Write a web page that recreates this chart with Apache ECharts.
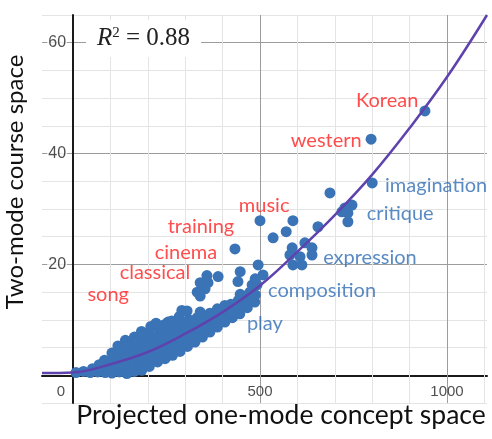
<!DOCTYPE html>
<html>
<head>
<meta charset="utf-8">
<title>Two-mode course space vs projected one-mode concept space</title>
<script src="https://cdn.jsdelivr.net/npm/echarts@6/dist/echarts.min.js"></script>
<style>
html, body { margin: 0; padding: 0; background: #fff; }
#chart { width: 492px; height: 439px; }
</style>
</head>
<body>
<div id="chart"></div>
<script>
// dense mass of points near the origin, [one-mode, two-mode]
const clusterPoints = [
  [8, 0.5], [28, 0.7], [46, 0.5], [52, 1.2],
  [66, 0.6], [70, 1.9],
  [86, 0.5], [88, 1.7], [84, 2.7],
  [104, 0.4], [102, 1.7], [108, 3.0], [104, 4.0],
  [124, 0.6], [122, 1.9], [128, 3.2], [126, 4.6], [120, 5.3],
  [144, 0.3], [142, 1.5], [148, 2.8], [144, 4.2], [146, 5.6], [140, 6.3],
  [164, 0.7], [168, 2.0], [162, 3.3], [166, 4.6], [170, 5.9], [164, 6.9],
  [184, 0.9], [182, 1.8], [188, 2.9], [184, 4.2], [186, 5.5], [190, 6.8], [183, 7.9],
  [204, 1.6], [208, 2.5], [202, 3.6], [206, 4.9], [210, 6.2], [204, 7.5], [208, 8.8],
  [226, 2.4], [222, 3.3], [228, 4.5], [224, 5.8], [226, 7.1], [230, 8.4], [222, 9.4],
  [246, 3.0], [248, 4.1], [242, 5.3], [246, 6.6], [250, 7.9], [244, 9.1], [254, 9.6],
  [266, 3.6], [268, 4.7], [262, 6.0], [266, 7.3], [270, 8.6], [264, 9.8],
  [286, 4.3], [288, 5.5], [282, 6.8], [286, 8.1], [290, 9.4], [284, 10.6],
  [306, 5.2], [308, 6.3], [302, 7.6], [306, 8.9], [310, 10.0],
  [326, 6.0], [328, 7.3], [322, 8.6], [326, 9.9], [332, 10.4],
  [346, 6.9], [348, 8.1], [342, 9.4], [346, 10.5],
  [366, 7.8], [368, 8.9], [362, 10.2], [366, 11.2],
  [386, 8.7], [388, 9.8], [382, 11.0], [386, 12.0],
  [406, 9.6], [408, 10.7], [402, 11.9], [406, 12.6],
  [426, 10.4], [428, 11.5], [422, 12.8],
  [446, 11.1], [448, 12.3], [442, 13.5],
  [466, 12.2], [468, 13.2], [462, 14.3],
  [486, 13.2], [488, 14.5]
];

// scattered points away from the mass
const outlierPoints = [
  [941, 47.7], [797, 42.6], [800, 34.7], [687, 32.9], [746, 30.7],
  [727, 30.2], [719, 29.5], [735, 29.3], [735, 27.7], [655, 26.8],
  [588, 27.9], [500, 27.9], [570, 25.9], [535, 24.8], [620, 23.9],
  [639, 23.0], [586, 23.0], [580, 21.7], [607, 21.4], [639, 21.7],
  [588, 19.9], [612, 19.9], [495, 19.9], [508, 18.1], [487, 17.4],
  [479, 16.3], [492, 16.3], [433, 22.8], [447, 18.7], [441, 16.9],
  [388, 17.8], [358, 18.0], [340, 16.7], [361, 16.7], [353, 15.6],
  [332, 15.0], [340, 14.3], [447, 14.6], [460, 13.6], [452, 12.5],
  [473, 15.0], [291, 11.7], [305, 11.6], [340, 11.4]
];

// fitted trend curve
const curvePoints = [
  [-83, 0.4], [0, 0.5], [100, 2.0], [200, 4.2], [300, 7.5], [400, 11.4],
  [500, 16.2], [600, 22.3], [700, 28.9], [800, 36.2], [900, 44.6],
  [1000, 53.8], [1107, 65]
];

const redWords = ['Korean', 'western', 'music', 'training', 'cinema', 'classical', 'song'];
const redWordAt = [[840, 49.5], [677, 42.4], [511, 30.7], [342, 26.9], [302, 22.2], [219, 18.6], [94, 14.5]];
const blueWords = ['imagination', 'critique', 'expression', 'composition', 'play'];
const blueWordAt = [[971, 34.3], [875, 29.2], [794, 21.3], [666, 15.3], [513, 9.4]];

const xLabelValues = [0, 500, 1000];
const yLabelValues = [20, 40, 60];
const xGridMinor = [100, 200, 300, 400, 600, 700, 800, 900, 1100];
const xGridMajor = [500, 1000];

const DOT = '#3b74b6';
const MINOR = '#e4e4e4';
const MAJOR = '#9c9c9c';
const TICK_FONT = 'Liberation Sans';
const WORD_FONT = 'Lato';

function wordSeries(words, at, color) {
  return {
    type: 'scatter',
    silent: true,
    symbolSize: 0,
    z: 8,
    data: words.map((w, i) => ({ name: w, value: at[i] })),
    label: {
      show: true,
      position: 'inside',
      formatter: '{b}',
      color: color,
      fontSize: 20,
      fontFamily: WORD_FONT
    }
  };
}

// tick labels hang off the zero lines, like the original graph
const tickText = { fontSize: 15, fontFamily: TICK_FONT, color: '#222' };

const chart = echarts.init(document.getElementById('chart'));

chart.setOption({
  backgroundColor: '#fff',
  animation: false,
  grid: { left: 42, right: 5, top: 15, bottom: 36 },
  xAxis: {
    type: 'value',
    min: -83,
    max: 1107,
    splitLine: { show: false },
    axisLine: { onZero: true, lineStyle: { color: '#1a1a1a', width: 2 } },
    axisTick: { show: false },
    axisLabel: { show: false }
  },
  yAxis: {
    type: 'value',
    min: -5,
    max: 65,
    interval: 5,
    axisLine: { onZero: true, lineStyle: { color: '#1a1a1a', width: 2 } },
    axisTick: { show: false },
    splitLine: { lineStyle: { color: [MINOR, MAJOR, MINOR, MINOR], width: 1 } },
    axisLabel: { show: false }
  },
  series: [
    {
      // vertical grid lines
      type: 'scatter',
      data: [],
      z: 1,
      markLine: {
        silent: true,
        z: 1,
        symbol: ['none', 'none'],
        label: { show: false },
        data: xGridMinor.map(v => ({ xAxis: v, lineStyle: { color: MINOR, width: 1, type: 'solid' } }))
          .concat(xGridMajor.map(v => ({ xAxis: v, lineStyle: { color: MAJOR, width: 1, type: 'solid' } })))
      }
    },
    {
      // x tick labels
      type: 'scatter',
      silent: true,
      symbolSize: 0,
      z: 9,
      data: xLabelValues.map(v => [v, 0]),
      label: Object.assign({
        show: true,
        position: 'bottom',
        distance: 9,
        formatter: p => String(p.value[0])
      }, tickText),
      labelLayout: p => (p.dataIndex === 0 ? { dx: -12 } : {})
    },
    {
      // y tick labels
      type: 'scatter',
      silent: true,
      symbolSize: 0,
      z: 9,
      data: yLabelValues.map(v => [0, v]),
      label: Object.assign({
        show: true,
        position: 'left',
        distance: 6,
        formatter: p => String(p.value[1]),
        backgroundColor: '#fff',
        padding: [1, 1]
      }, tickText, { fontSize: 16 })
    },
    {
      type: 'scatter',
      silent: true,
      symbolSize: 11,
      z: 6,
      itemStyle: { color: DOT, opacity: 1 },
      data: clusterPoints.concat(outlierPoints)
    },
    {
      type: 'line',
      silent: true,
      smooth: 0.4,
      showSymbol: false,
      z: 7,
      lineStyle: { color: '#5e43ae', width: 2.5 },
      data: curvePoints
    },
    wordSeries(redWords, redWordAt, '#ff1f1f'),
    wordSeries(blueWords, blueWordAt, '#2f6db5')
  ],
  graphic: [
    {
      type: 'text',
      x: 86,
      y: 20,
      z: 10,
      style: {
        text: '{r|R}{s|2}{t| = 0.88}',
        backgroundColor: '#fff',
        padding: [6, 11, 6, 11],
        rich: {
          r: { fontFamily: 'Liberation Serif', fontStyle: 'italic', fontSize: 25, fill: '#222' },
          s: { fontFamily: 'Liberation Serif', fontSize: 15, fill: '#222', verticalAlign: 'top', padding: [0, 0, 9, 0] },
          t: { fontFamily: 'Liberation Serif', fontSize: 25, fill: '#222' }
        }
      }
    },
    {
      type: 'text',
      x: 281,
      y: 415,
      style: {
        text: 'Projected one-mode concept space',
        fontFamily: WORD_FONT,
        fontSize: 26.5,
        fill: '#111',
        align: 'center',
        verticalAlign: 'middle'
      }
    },
    {
      type: 'text',
      x: 15,
      y: 182,
      rotation: Math.PI / 2,
      style: {
        text: 'Two-mode course space',
        fontFamily: WORD_FONT,
        fontSize: 24,
        fill: '#111',
        align: 'center',
        verticalAlign: 'middle'
      }
    }
  ]
});
</script>
</body>
</html>
